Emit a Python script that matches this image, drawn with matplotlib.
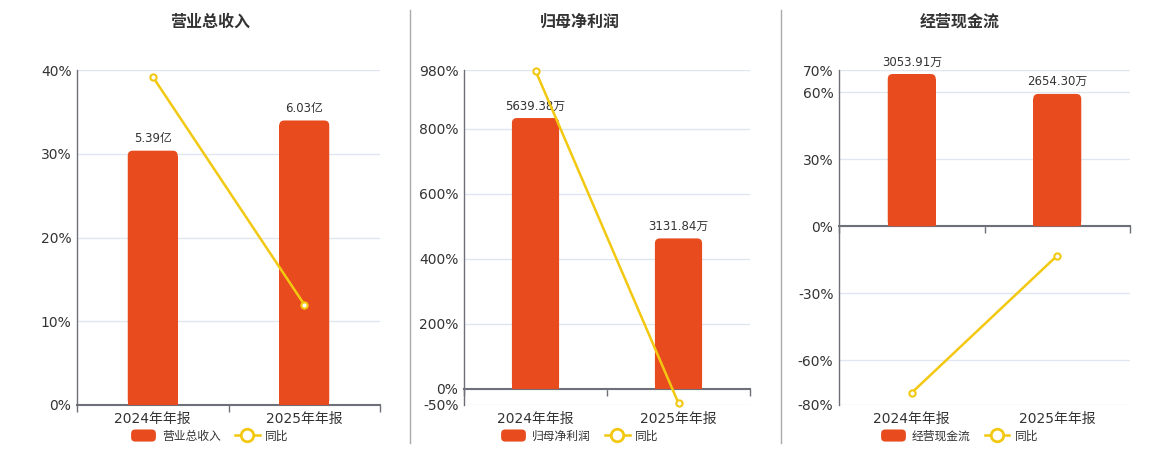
import matplotlib.pyplot as plt
from matplotlib.patches import FancyBboxPatch, Rectangle
from matplotlib.lines import Line2D
from matplotlib.legend_handler import HandlerPatch

plt.rcParams['font.family'] = ['DejaVu Sans', 'Noto Sans CJK SC']

# data
categories = ['2024年年报', '2025年年报']
titles = ['营业总收入', '归母净利润', '经营现金流']

revenue = [5.39, 6.03]          # 亿
revenue_yoy = [39.2, 12.0]      # %
profit = [5639.38, 3131.84]     # 万
profit_yoy = [978.0, -44.46]
cashflow = [3053.91, 2654.30]   # 万
cashflow_yoy = [-74.5, -13.08]

revenue_ticks = [0, 10, 20, 30, 40]
profit_ticks = [-50, 0, 200, 400, 600, 800, 980]
cashflow_ticks = [-80, -60, -30, 0, 30, 60, 70]

BAR = '#E84C1E'
LINE = '#F2C811'
AXIS = '#6E7079'
GRID = '#E0E6F1'
TXT = '#333333'

W, H = 1160, 450
fig = plt.figure(figsize=(W / 100, H / 100), dpi=100)
fig.patch.set_facecolor('white')


def px_rect(l, t, r, b):
    return [l / W, 1 - b / H, (r - l) / W, (b - t) / H]


def round_top(ax, bars, r_px=5):
    inv = ax.transData.inverted()
    x0, y0 = inv.transform((0, 0))
    x1, y1 = inv.transform((r_px, r_px))
    rx, ry = x1 - x0, y1 - y0
    for b in bars:
        x, y, w, h = b.get_x(), b.get_y(), b.get_width(), b.get_height()
        b.set_visible(False)
        ax.add_patch(FancyBboxPatch((x, y), w, h,
                                    boxstyle=f'round,pad=0,rounding_size={rx}',
                                    mutation_aspect=ry / rx, fc=BAR, ec='none'))
        ax.add_patch(Rectangle((x, y), w, h - ry, fc=BAR, ec='none'))


def rounded_handle(legend, orig_handle, xdescent, ydescent, width, height, fontsize):
    return FancyBboxPatch((-xdescent, -ydescent), width, height,
                          boxstyle='round,pad=0,rounding_size=3')


panels = [
    dict(title=titles[0], vals=revenue, yoy=revenue_yoy, ticks=revenue_ticks,
         unit='亿', rect=(77, 70, 380, 405), cx=210, blim=(0, 7.1)),
    dict(title=titles[1], vals=profit, yoy=profit_yoy, ticks=profit_ticks,
         unit='万', rect=(464, 70, 750, 405), cx=580,
         blim=(-6640 * 50 / 980, 6640)),
    dict(title=titles[2], vals=cashflow, yoy=cashflow_yoy, ticks=cashflow_ticks,
         unit='万', rect=(839, 70, 1130, 405), cx=960,
         blim=(-3134 * 80 / 70, 3134)),
]

xs = list(range(len(categories)))

for p in panels:
    rect = px_rect(*p['rect'])
    lo, hi = min(p['ticks']), max(p['ticks'])

    # percentage axis: grid, ticks, zero line
    ax = fig.add_axes(rect)
    ax.set_xlim(-0.5, 1.5)
    ax.set_ylim(lo, hi)
    ax.set_yticks(p['ticks'])
    ax.set_yticklabels([f'{t}%' for t in p['ticks']])
    ax.yaxis.grid(True, color=GRID, lw=1)
    ax.set_axisbelow(True)
    for s in ['top', 'right']:
        ax.spines[s].set_visible(False)
    ax.spines['left'].set_color(AXIS)
    ax.spines['left'].set_linewidth(1)
    ax.spines['bottom'].set_position(('data', 0))
    ax.spines['bottom'].set_color(AXIS)
    ax.spines['bottom'].set_linewidth(1.5)
    ax.set_xticks([-0.5, 0.5, 1.5])
    ax.set_xticklabels(['', '', ''])
    ax.tick_params(axis='x', length=5, width=1, color=AXIS, direction='out')
    ax.tick_params(axis='y', length=0, labelsize=10, labelcolor=TXT, pad=4)

    # bars on their own hidden scale
    axb = fig.add_axes(rect)
    axb.patch.set_visible(False)
    axb.set_xlim(-0.5, 1.5)
    axb.set_ylim(*p['blim'])
    bars = axb.bar(xs, p['vals'], width=0.33, color=BAR)
    round_top(axb, bars)
    for x, v in zip(xs, p['vals']):
        axb.annotate(f'{v:.2f}{p["unit"]}', (x, v), xytext=(0, 4),
                     textcoords='offset points', ha='center', va='bottom',
                     fontsize=8.5, color=TXT)
    axb.set_xticks(xs)
    axb.set_xticklabels(categories)
    axb.tick_params(axis='x', length=0, labelsize=10, labelcolor=TXT, pad=5)
    axb.set_yticks([])
    for s in axb.spines.values():
        s.set_visible(False)

    # yoy line
    axl = fig.add_axes(rect)
    axl.patch.set_visible(False)
    axl.set_xlim(-0.5, 1.5)
    axl.set_ylim(lo, hi)
    axl.plot(xs, p['yoy'], color=LINE, lw=1.8, marker='o', ms=4.5,
             mfc='white', mec=LINE, mew=1.5, clip_on=False)
    axl.axis('off')

    # title and legend
    fig.text(p['cx'] / W, 1 - 22 / H, p['title'], ha='center', va='center',
             fontsize=11.5, fontweight='bold', color=TXT)
    h_bar = Rectangle((0, 0), 1, 1, fc=BAR, ec='none')
    h_line = Line2D([], [], color=LINE, lw=1.8, marker='o', ms=9,
                    mfc='white', mec=LINE, mew=2)
    fig.legend([h_bar, h_line], [p['title'], '同比'], loc='center',
               bbox_to_anchor=(p['cx'] / W, 1 - 436 / H), ncol=2,
               frameon=False, fontsize=8.5, handlelength=2.1,
               handleheight=1.2, handletextpad=0.5, columnspacing=1.2,
               labelcolor=TXT,
               handler_map={Rectangle: HandlerPatch(patch_func=rounded_handle)})

# separators between panels
for x in [410, 781]:
    fig.add_artist(Line2D([x / W, x / W], [1 - 10 / H, 1 - 443 / H],
                          color='#AAAAAA', lw=1))

plt.savefig('out.png', dpi=100)
